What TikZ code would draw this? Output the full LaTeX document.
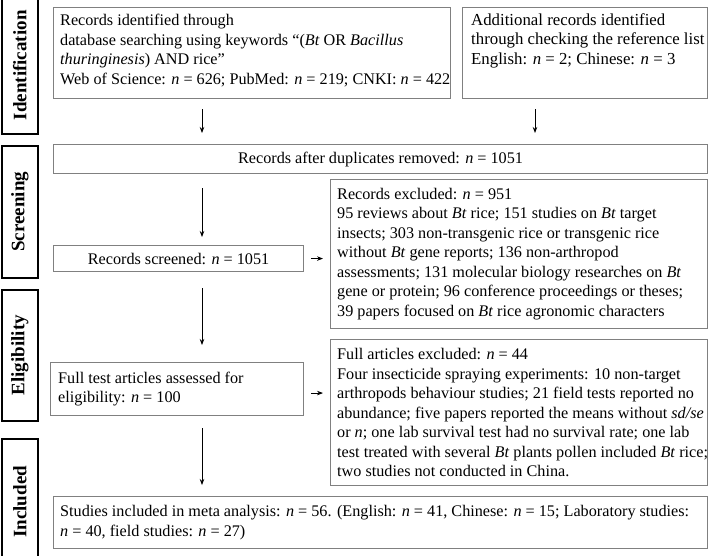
\documentclass[tikz,border=0pt]{standalone}
\usepackage{fontspec}
\setmainfont{Liberation Serif}
\usetikzlibrary{arrows.meta}
\newcommand{\nn}{\textit{n}}
\newcommand{\Bt}{\textit{Bt}}
\tikzset{
  box/.style={draw=black!50, line width=1.1pt, anchor=north west, inner sep=0pt},
  stage/.style={draw=black, line width=1.6pt, anchor=north west, inner sep=0pt},
  stagetxt/.style={rotate=90, font=\fontsize{19}{22}\selectfont\bfseries},
  txt/.style={align=left, inner sep=0pt, font=\fontsize{16.2}{19.5}\selectfont},
  bigtxt/.style={align=left, inner sep=0pt, font=\fontsize{16.8}{19.5}\selectfont},
  flow/.style={-{Stealth[length=6pt,width=4.5pt]}, line width=0.8pt, black}
}
\begin{document}
\begin{tikzpicture}[x=1pt,y=-1pt]
\useasboundingbox (0,0) rectangle (709,555);
% stage labels
\node[stage, minimum width=36pt, minimum height=137pt] (s1) at (1,-4) {};
\node[stagetxt] (s1t) at (s1.center) {Identification};
\node[stage, minimum width=36pt, minimum height=132pt] (s2) at (1,145) {};
\node[stagetxt] (s2t) at (s2.center) {Screening};
\node[stage, minimum width=36pt, minimum height=131pt] (s3) at (1,289) {};
\node[stagetxt] (s3t) at (s3.center) {Eligibility};
\node[stage, minimum width=36pt, minimum height=122pt] (s4) at (1,438) {};
\node[stagetxt] (s4t) at ([yshift=-2pt]s4.center) {Included};
% boxes
\node[box, minimum width=397pt, minimum height=91pt] (b1) at (53,7) {};
\node[txt, anchor=north west] (t1) at (60,14) {Records identified through\\database searching using keywords “(\Bt{} OR \textit{Bacillus}\\\textit{thuringinesis}) AND rice”\\Web of Science: \nn{} = 626; PubMed: \nn{} = 219; CNKI: \nn{} = 422};
\node[box, minimum width=245pt, minimum height=91pt] (b2) at (462,7) {};
\node[bigtxt, anchor=north west] (t2) at (471,13) {Additional records identified\\through checking the reference list\\English: \nn{} = 2; Chinese: \nn{} = 3};
\node[box, minimum width=654pt, minimum height=29pt] (b3) at (53,144) {};
\node[txt] (t3) at (b3.center) {Records after duplicates removed: \nn{} = 1051};
\node[box, minimum width=250pt, minimum height=26pt] (b4) at (53,245) {};
\node[txt] (t4) at (b4.center) {Records screened: \nn{} = 1051};
\node[box, minimum width=377pt, minimum height=149pt] (b5) at (330,179) {};
\node[txt, anchor=west] (t5) at ([xshift=7pt]b5.west) {Records excluded: \nn{} = 951\\95 reviews about \Bt{} rice; 151 studies on \Bt{} target\\insects; 303 non-transgenic rice or transgenic rice\\without \Bt{} gene reports; 136 non-arthropod\\assessments; 131 molecular biology researches on \Bt\\gene or protein; 96 conference proceedings or theses;\\39 papers focused on \Bt{} rice agronomic characters};
\node[box, minimum width=253pt, minimum height=53pt] (b6) at (50,362) {};
\node[txt, anchor=west] (t6) at ([xshift=8pt]b6.west) {Full test articles assessed for\\eligibility: \nn{} = 100};
\node[box, minimum width=377pt, minimum height=146pt] (b7) at (330,339) {};
\node[txt, anchor=west] (t7) at ([xshift=7pt]b7.west) {Full articles excluded: \nn{} = 44\\Four insecticide spraying experiments: 10 non-target\\arthropods behaviour studies; 21 field tests reported no\\abundance; five papers reported the means without \textit{sd/se}\\or \nn; one lab survival test had no survival rate; one lab\\test treated with several \Bt{} plants pollen included \Bt{} rice;\\two studies not conducted in China.};
\node[box, minimum width=654pt, minimum height=52pt] (b8) at (53,496) {};
\node[txt, anchor=west] (t8) at ([xshift=7pt]b8.west) {Studies included in meta analysis: \nn{} = 56. (English: \nn{} = 41, Chinese: \nn{} = 15; Laboratory studies:\\\nn{} = 40, field studies: \nn{} = 27)};
% arrows
\draw[flow, shorten <=10pt, shorten >=11pt] (b1.south -| 202,0) -- (b3.north -| 202,0);
\draw[flow, shorten <=10pt, shorten >=11pt] (b2.south -| 535,0) -- (b3.north -| 535,0);
\draw[flow, shorten <=14pt, shorten >=8pt] (b3.south -| 202,0) -- (b4.north -| 202,0);
\draw[flow, shorten <=7pt, shorten >=7pt] (b4.east) -- (b4.east -| b5.west);
\draw[flow, shorten <=16pt, shorten >=17pt] (b4.south -| 202,0) -- (b6.north -| 202,0);
\draw[flow, shorten <=7pt, shorten >=7pt] ([yshift=-4pt]b6.east) -- ([yshift=-4pt]b6.east -| b7.west);
\draw[flow, shorten <=12pt, shorten >=11pt] (b6.south -| 202,0) -- (b8.north -| 202,0);
\end{tikzpicture}
\end{document}
